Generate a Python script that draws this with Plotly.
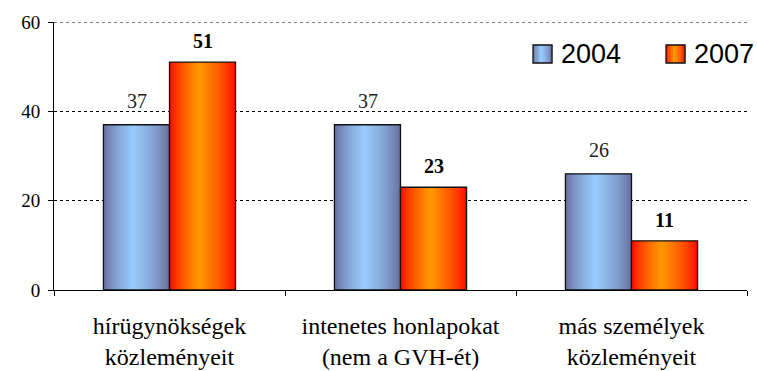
import plotly.graph_objects as go

categories = ["hírügynökségek<br>közleményeit",
              "intenetes honlapokat<br>(nem a GVH-ét)",
              "más személyek<br>közleményeit"]
values_2004 = [37, 37, 26]
values_2007 = [51, 23, 11]
series_names = ["2004", "2007"]
y_tick_vals = [0, 20, 40, 60]

SERIF = "Liberation Serif, Times New Roman, serif"
SANS = "Liberation Sans, Arial, sans-serif"

# plot geometry (pixels) used only for layout elements
W, H = 757, 371
ML, MR, MT, MB = 54, 10, 22, 81

BAR_W = 0.286
N_SLICES = 28


def blend(c1, c2, f):
    return "rgb(%d,%d,%d)" % tuple(round(a + (b - a) * f) for a, b in zip(c1, c2))


def grad_color(edge, mid, t, peak=0.45):
    d = t / peak if t < peak else (1 - t) / (1 - peak)
    d = max(0.0, min(1.0, d)) ** 0.7
    return blend(edge, mid, d)


series = [
    dict(name=series_names[0], vals=values_2004, start=-BAR_W, edge=(100, 104, 152), mid=(153, 204, 255),
         font=dict(family=SERIF, size=20, color="#222222"), yshift=11),
    dict(name=series_names[1], vals=values_2007, start=0.0, edge=(255, 0, 0), mid=(255, 153, 0),
         font=dict(family=SERIF, size=20, color="black", weight="bold"), yshift=8),
]

fig = go.Figure()
sw = BAR_W / N_SLICES
for s in series:
    for i in range(N_SLICES):
        t = (i + 0.5) / N_SLICES
        c = grad_color(s["edge"], s["mid"], t)
        w = sw * (1.0 if i == N_SLICES - 1 else 1.8)
        fig.add_trace(go.Bar(
            x=categories, y=s["vals"], width=w, offset=s["start"] + i * sw,
            marker=dict(color=c, line=dict(width=0)),
            showlegend=False, hoverinfo="skip"))
    fig.add_trace(go.Bar(
        x=categories, y=s["vals"], width=BAR_W, offset=s["start"], name=s["name"],
        marker=dict(color="rgba(0,0,0,0)", line=dict(color="#111111", width=1.3)),
        showlegend=False))

annotations = []
for s, xs in zip(series, (-33, 33)):
    for cat, v in zip(categories, s["vals"]):
        annotations.append(dict(
            x=cat, y=v, xref="x", yref="y", text=str(v), showarrow=False,
            xshift=xs, yshift=s["yshift"], yanchor="bottom", font=s["font"]))

# custom legend (gradient squares + text)
pw = W - ML - MR
ph = H - MT - MB


def px_to_paper(px, py):
    return (px - ML) / pw, (H - MB - py) / ph


shapes = []
legend_items = [(533, series[0]), (666, series[1])]
for lx, s in legend_items:
    n = 8
    for i in range(n):
        t = (i + 0.5) / n
        x0, y0 = px_to_paper(lx + 19 * i / n, 63)
        x1, y1 = px_to_paper(lx + 19 * (i + 1) / n + 0.5, 45)
        shapes.append(dict(type="rect", xref="paper", yref="paper", x0=x0, x1=x1, y0=y0, y1=y1,
                           fillcolor=grad_color(s["edge"], s["mid"], t), line=dict(width=0)))
    x0, y0 = px_to_paper(lx, 63)
    x1, y1 = px_to_paper(lx + 19, 45)
    shapes.append(dict(type="rect", xref="paper", yref="paper", x0=x0, x1=x1, y0=y0, y1=y1,
                       fillcolor="rgba(0,0,0,0)", line=dict(color="#111111", width=1.3)))
    tx, ty = px_to_paper(lx + 26, 54)
    annotations.append(dict(x=tx, y=ty, xref="paper", yref="paper", text=s["name"],
                            showarrow=False, xanchor="left", yanchor="middle",
                            font=dict(family=SANS, size=27, color="black")))

# top gridline at the range edge
shapes.append(dict(type="line", xref="paper", yref="y", x0=0, x1=1,
                   y0=y_tick_vals[-1], y1=y_tick_vals[-1], layer="below",
                   line=dict(color="black", width=1, dash="3px,3px")))

fig.update_layout(
    width=W, height=H,
    margin=dict(l=ML, r=MR, t=MT, b=MB),
    paper_bgcolor="white", plot_bgcolor="white",
    barmode="overlay",
    showlegend=False,
    annotations=annotations,
    shapes=shapes,
    xaxis=dict(
        type="category", tickson="boundaries", ticks="outside", ticklen=5,
        tickcolor="black", showline=True, linecolor="black", linewidth=1,
        showgrid=False, range=[-0.5, 2.5], automargin=False,
        tickfont=dict(family=SERIF, size=24, color="black"),
        ticklabelstandoff=14,
    ),
    yaxis=dict(
        range=[0, 60], tickvals=y_tick_vals, ticks="outside", ticklen=5,
        tickcolor="black", showline=True, linecolor="black", linewidth=1,
        showgrid=True, gridcolor="black", gridwidth=1, griddash="3px,3px",
        zeroline=False, automargin=False,
        tickfont=dict(family=SERIF, size=19, color="black"),
        ticklabelstandoff=4,
    ),
)

fig.write_html("out.html", config={"displayModeBar": False},
               post_script="document.body.style.margin='0';document.body.style.padding='0';")
